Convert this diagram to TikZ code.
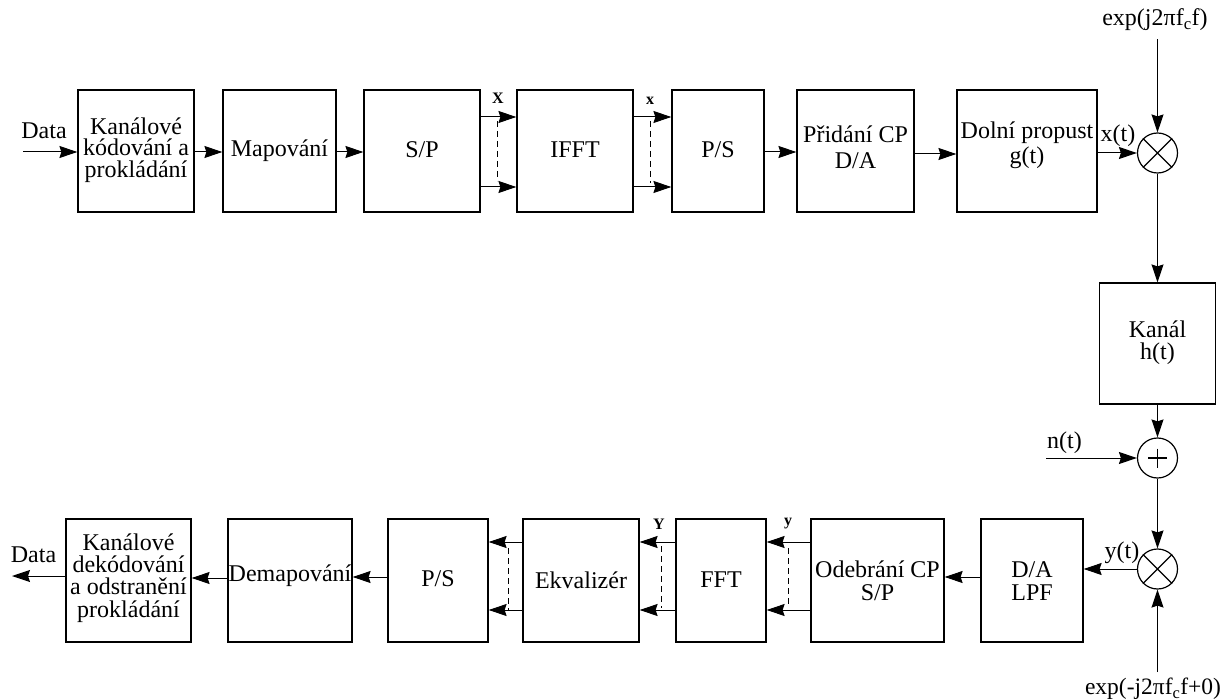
\documentclass[tikz,border=0pt]{standalone}
\usepackage{fontspec}
\setmainfont{Liberation Serif}
\usetikzlibrary{arrows.meta,calc}
\begin{document}
\begin{tikzpicture}[x=1pt,y=-1pt,
  blk/.style={draw, line width=1.2pt, inner sep=0pt},
  txt/.style={inner sep=0pt, align=center, font=\fontsize{24}{21.7}\selectfont},
  lbl/.style={inner sep=0pt, font=\fontsize{16}{18}\selectfont\bfseries},
  arr/.style={line width=1pt, -{Stealth[length=18pt,width=12pt,inset=2pt]}},
  ln/.style={line width=1.2pt},
  dsh/.style={line width=1pt, dash pattern=on 6pt off 4pt},
  mix/.style={circle, draw, line width=1.2pt, minimum size=40pt, inner sep=0pt}]
\useasboundingbox (0,0) rectangle (1222,700);
% ---------- top row boxes ----------
\node[blk, minimum width=116pt, minimum height=122pt] (b1) at (136,151) {};
\node[blk, minimum width=113pt, minimum height=122pt] (b2) at (279.5,151) {};
\node[blk, minimum width=116pt, minimum height=122pt] (b3) at (422,151) {};
\node[blk, minimum width=116pt, minimum height=122pt] (b4) at (575,151) {};
\node[blk, minimum width=92pt, minimum height=122pt] (b5) at (718,151) {};
\node[blk, minimum width=117pt, minimum height=122pt] (b6) at (855.5,151) {};
\node[blk, minimum width=140pt, minimum height=122pt] (b7) at (1027,151) {};
\node[mix] (m1) at (1157.5,153) {};
\node[blk, minimum width=116pt, minimum height=121pt] (ch) at (1157.5,343.5) {};
\node[mix] (pl) at (1157.5,458) {};
\node[mix] (m2) at (1157.5,569) {};
% ---------- bottom row boxes ----------
\node[blk, minimum width=102pt, minimum height=123pt] (da) at (1032,580.5) {};
\node[blk, minimum width=133pt, minimum height=123pt] (od) at (877.5,580.5) {};
\node[blk, minimum width=90pt, minimum height=123pt] (fft) at (721,580.5) {};
\node[blk, minimum width=116pt, minimum height=123pt] (ek) at (581,580.5) {};
\node[blk, minimum width=100pt, minimum height=123pt] (ps) at (438,580.5) {};
\node[blk, minimum width=124pt, minimum height=123pt] (dm) at (290,580.5) {};
\node[blk, minimum width=125pt, minimum height=123pt] (kd) at (128.5,580.5) {};
% ---------- texts ----------
\node[txt] (t1) at (136,150) {Kanálové\\kódování a\\prokládání};
\node[txt] (t2) at (279.5,151) {Mapování};
\node[txt] (t3) at (422,150) {S/P};
\node[txt] (t4) at (575,150) {IFFT};
\node[txt] (t5) at (718,150) {P/S};
\node[txt, font=\fontsize{24}{26}\selectfont] (t6) at (855.5,147.5) {Přidání CP\\D/A};
\node[txt, font=\fontsize{24}{25}\selectfont] (t7) at (1027,145) {Dolní propust\\g(t)};
\node[txt] (tx) at (1118,136) {x(t)};
\node[txt] (e1) at (1155,20) {exp(j2πf\textsubscript{c}f)};
\node[txt, font=\fontsize{24}{22}\selectfont] (t8) at (1157.5,343) {Kanál\\h(t)};
\node[txt] (tn) at (1064.5,443) {n(t)};
\node[txt] (ty) at (1122,553) {y(t)};
\node[txt, font=\fontsize{23.5}{25}\selectfont] (e2) at (1153,689) {exp(-j2πf\textsubscript{c}f+0)};
\node[txt, font=\fontsize{24}{23}\selectfont] (t9) at (1032,581) {D/A\\LPF};
\node[txt, font=\fontsize{24}{23}\selectfont] (t10) at (877.5,581) {Odebrání CP\\S/P};
\node[txt] (t11) at (721,580) {FFT};
\node[txt] (t12) at (581,580) {Ekvalizér};
\node[txt] (t13) at (438,579) {P/S};
\node[txt] (t14) at (290,576) {Demapování};
\node[txt, font=\fontsize{24}{22.3}\selectfont] (t15) at (128.5,578) {Kanálové\\dekódování\\a odstranění\\prokládání};
\node[txt] (d1) at (44,130.5) {Data};
\node[txt] (d2) at (33.5,554.5) {Data};
\node[lbl] (lX) at (498,98.2) {X};
\node[lbl] (lx) at (650,101) {x};
\node[lbl] (lY) at (659,524) {Y};
\node[lbl] (ly) at (788,524) {y};
% ---------- multiplier / adder symbols ----------
\draw[ln] (m1.north west) -- (m1.south east) (m1.north east) -- (m1.south west);
\draw[ln] (m2.north west) -- (m2.south east) (m2.north east) -- (m2.south west);
\draw[ln] ($(pl.center)+(-9.5,0)$) -- ($(pl.center)+(9.5,0)$)
          ($(pl.center)+(0,-9.5)$) -- ($(pl.center)+(0,9.5)$);
% ---------- top row connectors ----------
\coordinate (din) at (23,152);
\draw[arr] (din) -- (din -| b1.west);
\draw[arr] ($(b1.east)+(0,1)$) -- ($(b2.west)+(0,1)$);
\draw[arr] ($(b2.east)+(0,1)$) -- ($(b3.west)+(0,1)$);
\draw[arr] ($(b3.east)+(0,-34)$) -- ($(b4.west)+(0,-34)$);
\draw[arr] ($(b3.east)+(0,36)$) -- ($(b4.west)+(0,36)$);
\draw[arr] ($(b4.east)+(0,-34)$) -- ($(b5.west)+(0,-34)$);
\draw[arr] ($(b4.east)+(0,36)$) -- ($(b5.west)+(0,36)$);
\draw[arr] ($(b5.east)+(0,1)$) -- ($(b6.west)+(0,1)$);
\draw[arr] ($(b6.east)+(0,3)$) -- ($(b7.west)+(0,3)$);
\draw[arr] (b7.east |- m1.west) -- (m1.west);
\draw[dsh] (497,121) -- (497,181);
\draw[dsh] (650,121) -- (650,183);
% ---------- right column ----------
\draw[arr, shorten <=8pt] (m1.north |- e1.south) -- (m1.north);
\draw[arr] (m1.south) -- (ch.north);
\draw[arr] (ch.south) -- (pl.north);
\coordinate (nin) at (1046,458);
\draw[arr] (nin) -- (pl.west);
\draw[arr] (pl.south) -- (m2.north);
\draw[arr, shorten <=6pt] (m2.south |- e2.north) -- (m2.south);
\draw[arr] (m2.west) -- (m2.west -| da.east);
% ---------- bottom row connectors ----------
\draw[arr] ($(da.west)+(0,-3.5)$) -- ($(od.east)+(0,-3.5)$);
\draw[arr] ($(od.west)+(0,-38.5)$) -- ($(fft.east)+(0,-38.5)$);
\draw[arr] ($(od.west)+(0,29.5)$) -- ($(fft.east)+(0,29.5)$);
\draw[arr] ($(fft.west)+(0,-38.5)$) -- ($(ek.east)+(0,-38.5)$);
\draw[arr] ($(fft.west)+(0,29.5)$) -- ($(ek.east)+(0,29.5)$);
\draw[arr] ($(ek.west)+(0,-38.5)$) -- ($(ps.east)+(0,-38.5)$);
\draw[arr] ($(ek.west)+(0,29.5)$) -- ($(ps.east)+(0,29.5)$);
\draw[arr] ($(ps.west)+(0,-3.5)$) -- ($(dm.east)+(0,-3.5)$);
\draw[arr] ($(dm.west)+(0,-2.5)$) -- ($(kd.east)+(0,-2.5)$);
\coordinate (dout) at (12,576);
\draw[arr] (kd.west |- dout) -- (dout);
\draw[dsh] (788,548) -- (788,606);
\draw[dsh] (661,546) -- (661,608);
\draw[dsh] (508,548) -- (508,610);
\end{tikzpicture}
\end{document}
